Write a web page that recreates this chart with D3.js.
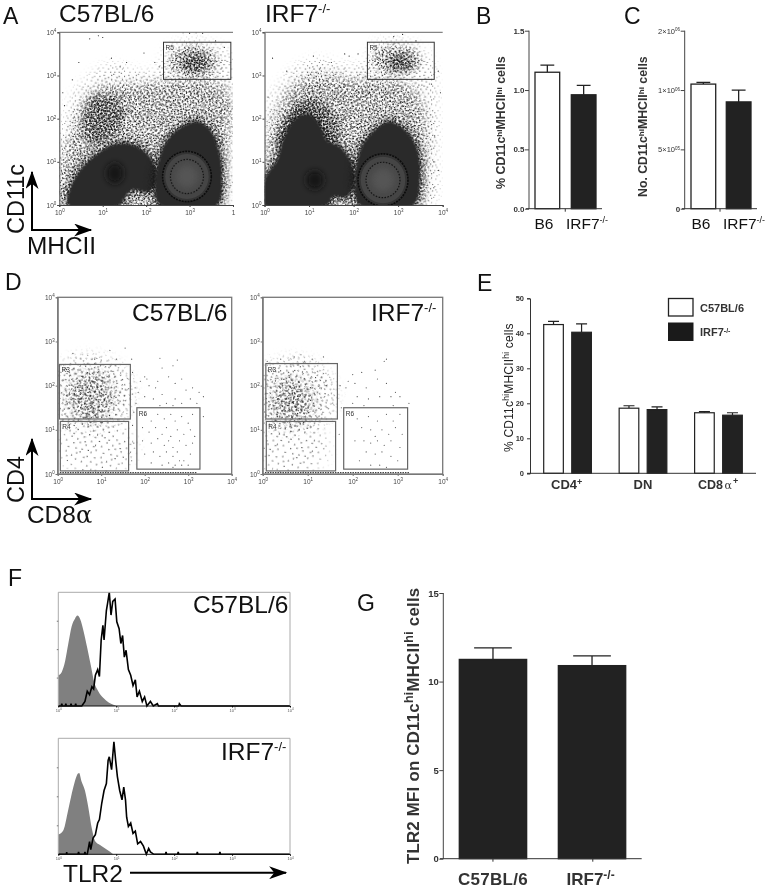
<!DOCTYPE html>
<html>
<head>
<meta charset="utf-8">
<script src="https://cdn.jsdelivr.net/npm/d3@7"></script>
<style>
  html, body { margin: 0; padding: 0; background: #fff; }
  svg { display: block; filter: blur(0.35px); }
  text { font-family: "Liberation Sans", Arial, sans-serif; }
</style>
</head>
<body>
<script>
// ---- values ----
// flow plots are in decades (0 = 10^0 ... 4 = 10^4)
var decades = [0, 1, 2, 3, 4];
var gateLabelA = "R5";

var aLeftCloud = [[0.02,0],[0.02,1.43],[0.13,1.89],[0.36,2.59],[0.71,2.97],[1.17,3.24],[1.71,3.09],[2.25,3.09],[2.48,3.59],[2.94,3.78],[3.4,3.75],[3.94,3.47],[4,2.9],[4,1.66],[3.86,0]];
var aLeftMid = [[0.05,0],[0.09,1.04],[0.36,1.81],[0.59,2.43],[1.09,2.74],[1.71,2.78],[2.25,2.82],[2.94,2.9],[3.55,2.86],[3.94,2.51],[3.9,1.51],[3.75,0.73],[3.67,0]];
var aLeftPatch = [[0.55,2.05],[0.78,2.51],[1.25,2.51],[1.48,2.2],[1.32,1.66],[0.86,1.43],[0.59,1.58]];
var aLeftSolid = [
  [[0.21,0],[0.28,0.46],[0.55,0.89],[0.9,1.2],[1.2,1.38],[1.6,1.42],[1.95,1.25],[2.17,0.97],[2.25,0.58],[2.05,0.31],[1.67,0.35],[1.48,0.12],[1.4,0]],
  [[2.2,0.42],[2.4,1.35],[2.71,1.74],[3.17,1.93],[3.48,1.74],[3.67,1.27],[3.75,0.66],[3.63,0],[2.32,0]]
];
var aLeftGateBlob = [3.09, 3.32, 0.56, 0.36];
var aLeftGateCore = [3.12, 3.3, 0.32, 0.22];
var aLeftNucleus = [1.28, 0.73, 0.2, 0.24];
var aLeftRing = [2.94, 0.66, 0.5, 0.52];
var aLeftGate = [2.4, 3.95, 2.91, 3.77];
var aLeftStray = [[0.7,3.85],[1.0,3.88],[0.9,3.92],[1.95,3.52],[1.4,3.2],[0.45,3.3],[3.0,3.98],[3.15,3.99],[2.85,3.99],[3.3,3.98],[1.2,3.4],[1.55,3.3],[0.3,2.9],[0.12,2.3],[0.08,2.6],[2.2,3.3],[2.3,3.2],[3.6,3.8],[3.8,3.65]];

var aRightCloud = [[0,0],[0.01,1.66],[0.13,2.43],[0.43,2.9],[0.8,3.24],[1.25,3.36],[1.84,3.2],[2.29,3.28],[2.44,3.67],[2.96,3.82],[3.49,3.63],[3.78,3.2],[3.86,2.43],[3.86,1.27],[3.71,0]];
var aRightMid = [[0.01,0.58],[0.13,1.66],[0.35,2.28],[0.65,2.74],[1.17,3.01],[1.92,2.9],[2.66,2.9],[3.26,2.74],[3.56,2.2],[3.63,1.27],[3.56,0.58],[3.49,0],[0.01,0]];
var aRightPatch = [[0.3,1.4],[0.55,2.15],[1.0,2.5],[1.5,2.2],[1.7,1.6],[1.0,1.3]];
var aRightSolid = [
  [[0,0.58],[0.28,1.04],[0.45,1.6],[0.7,2.0],[1.0,2.1],[1.25,1.85],[1.4,1.5],[1.69,1.35],[1.92,1.04],[2.03,0.58],[1.84,0.19],[1.54,0.19],[1.4,0],[0,0]],
  [[2.03,0.58],[2.18,1.35],[2.44,1.7],[2.78,1.93],[3.11,1.78],[3.41,1.35],[3.49,0.66],[3.34,0],[2.14,0]]
];
var aRightGateBlob = [2.96, 3.36, 0.55, 0.33];
var aRightGateCore = [3.05, 3.3, 0.3, 0.2];
var aRightNucleus = [1.13, 0.58, 0.2, 0.22];
var aRightRing = [2.66, 0.58, 0.5, 0.54];
var aRightGate = [2.31, 3.81, 2.91, 3.77];
var aRightStray = [[0.18,3.4],[0.5,3.1],[1.8,3.5],[1.9,3.45],[2.1,3.5],[3.95,2.6],[3.8,1.0],[3.9,0.8],[3.75,2.8],[3.9,3.1],[0.08,2.5],[3.1,3.95],[2.9,3.9],[3.4,3.8],[1.5,3.3],[1.1,3.45],[3.8,0.4],[3.82,1.6]];

var dLeftR3Blob = [0.74, 1.83, 1.0, 0.85];
var dLeftR3Core = [0.75, 1.75, 0.5, 0.55];
var dLeftR4Blob = [0.9, 0.6, 0.9, 0.65];
var dLeftPoints = [[0.35,2.73],[0.9,2.62],[1.2,2.8],[1.55,2.85],[0.85,2.6],[1.0,2.58],[1.7,2.6],[1.35,2.6],[2.35,2.62],[2.75,2.58],[2.65,2.45],[2.4,2.4],[2.0,2.2],[2.05,2.15],[1.9,2.1],[2.1,2.0],[2.25,1.95],[2.3,2.1],[2.55,2.2],[2.7,2.05],[2.85,2.15],[2.95,1.9],[3.1,1.95],[3.25,1.85],[3.35,1.75],[1.85,1.85],[2.0,1.75],[2.2,1.7],[2.4,1.8],[2.5,1.6],[2.7,1.7],[2.85,1.6],[3.05,1.7],[3.2,1.6],[1.8,1.6],[2.35,1.55],[2.65,1.55],[3.35,1.3],
  [2.0,1.35],[2.15,1.2],[2.3,1.35],[2.45,1.25],[2.6,1.35],[2.7,1.2],[2.85,1.3],[3.0,1.15],[3.1,1.35],[1.95,1.05],[2.1,0.95],[2.25,1.05],[2.4,0.9],[2.5,1.05],[2.6,0.85],[2.75,1.0],[2.9,0.9],[3.05,1.0],[3.15,0.85],[1.95,0.75],[2.15,0.7],[2.3,0.8],[2.45,0.65],[2.55,0.75],[2.65,0.6],[2.8,0.75],[2.95,0.65],[3.1,0.7],[2.0,0.45],[2.2,0.5],[2.35,0.4],[2.5,0.5],[2.65,0.4],[2.75,0.5],[2.9,0.3],[3.05,0.45],[2.55,0.25],[2.7,0.2],[2.85,0.2],[2.4,0.2],[2.15,0.25],[3.0,0.2],[2.65,0.15],[2.8,0.3],
  [1.72,1.1],[1.75,0.7],[1.7,0.3],[1.75,1.4],[1.72,2.3],[1.78,1.95]];
var dLeftGates = [["R3",0.04,1.67,1.245,2.48],["R4",0.06,1.63,0.07,1.19],["R6",1.82,3.27,0.11,1.5]];

var dRightR3Blob = [0.68, 1.78, 0.95, 0.85];
var dRightR3Core = [0.65, 1.65, 0.45, 0.5];
var dRightR4Blob = [0.65, 0.6, 0.8, 0.65];
var dRightPoints = [[0.4,2.6],[0.7,2.65],[0.85,2.7],[1.1,2.6],[1.35,2.65],[0.1,2.55],[2.7,2.55],[2.75,2.6],[2.5,2.35],[2.2,2.3],[2.0,2.25],[1.9,2.1],[1.85,1.95],[2.05,2.05],[2.3,1.95],[2.55,2.15],[2.75,2.05],[2.95,1.85],[2.85,1.75],[3.05,1.75],[3.25,1.6],[2.1,1.75],[2.35,1.7],[2.6,1.75],[2.25,1.55],[2.0,1.6],[2.9,1.55],
  [2.1,1.25],[2.35,1.3],[2.55,1.2],[2.75,1.35],[2.9,1.2],[3.05,1.35],[2.2,1.05],[2.4,1.0],[2.5,0.85],[2.65,1.0],[2.8,0.9],[2.95,1.05],[3.1,0.9],[2.05,0.75],[2.25,0.75],[2.4,0.7],[2.55,0.75],[2.7,0.65],[2.85,0.75],[3.05,0.6],[2.3,0.5],[2.5,0.45],[2.65,0.5],[2.85,0.4],[3.0,0.3],[2.6,0.2],[2.75,0.15],[2.4,0.2],[2.15,0.3],
  [1.7,0.9],[1.75,1.5],[1.72,2.0]];
var dRightGates = [["R3",0.07,1.66,1.245,2.5],["R4",0.08,1.62,0.07,1.19],["R6",1.8,3.22,0.11,1.5]];
var pileLeft = [0.05, 3.2];
var pileRight = [0.05, 3.25];

// bar panels
var bCats = ["B6", "IRF7"];
var bValues = [1.15, 0.96];
var bTops = [1.21, 1.04];
var bTicks = [0, 0.5, 1.0, 1.5];
var cValues = [1050000, 900000];
var cTops = [1065000, 1000000];
var cTicks = [0, 500000, 1000000, 1500000];
var cTickLabels = [["5", "05"], ["1", "06"], ["2", "06"]];
var eGroups = ["CD4", "DN", "CD8"];
var eWild = [42.5, 18.6, 17.3];
var eWildTops = [43.4, 19.3, 17.6];
var eKnock = [40.3, 18.2, 16.6];
var eKnockTops = [42.7, 19.0, 17.3];
var eTicks = [0, 10, 20, 30, 40, 50];
var gValues = [11.25, 10.9];
var gTops = [11.9, 11.45];
var gTicks = [0, 5, 10, 15];

// histograms: [decade, % of max]
var fTopGray = [[0,27],[0.06,30],[0.12,40],[0.17,54],[0.23,70],[0.29,77],[0.33,79.5],[0.38,76],[0.43,67],[0.5,51],[0.56,36],[0.62,21],[0.69,13],[0.78,7],[0.87,3],[0.95,1],[1.0,0]];
var fTopLine = [[0,0],[0.05,0],[0.06,2],[0.07,0],[0.12,0],[0.13,2],[0.14,0],[0.21,0],[0.22,2],[0.23,0],[0.29,0],[0.3,2],[0.31,0],[0.405,0],[0.46,4],[0.5,13],[0.54,10],[0.58,17],[0.61,15],[0.64,27],[0.68,32],[0.71,26],[0.74,58],[0.77,71],[0.79,58],[0.83,84],[0.85,90],[0.88,100],[0.91,80],[0.94,92],[0.98,94],[1.01,74],[1.05,68],[1.08,55],[1.11,62],[1.14,43],[1.17,49],[1.21,32],[1.25,27],[1.29,18],[1.33,23],[1.36,8],[1.4,13],[1.45,4],[1.49,8],[1.53,0],[1.59,4],[1.64,0],[1.71,2],[1.73,0],[2.08,0],[2.09,2],[2.12,0],[4,0]];
var fBotGray = [[0,17],[0.09,21],[0.17,38],[0.26,58],[0.32,68],[0.36,70],[0.4,63],[0.46,55],[0.52,40],[0.58,22],[0.64,11],[0.72,8],[0.81,5],[0.9,2],[0.95,0]];
var fBotLine = [[0,0],[0.14,0],[0.145,2],[0.15,0],[0.34,0],[0.35,2],[0.36,0],[0.45,0],[0.46,2],[0.47,0],[0.5,0],[0.54,11],[0.56,4],[0.6,14],[0.64,17],[0.68,27],[0.71,30],[0.75,44],[0.79,55],[0.83,61],[0.86,81],[0.88,84],[0.92,73],[0.96,97],[0.99,81],[1.02,67],[1.06,55],[1.1,47],[1.13,58],[1.16,47],[1.18,32],[1.21,24],[1.25,27],[1.29,18],[1.33,20],[1.37,9],[1.42,11],[1.47,7],[1.52,0],[1.56,5],[1.59,2],[1.65,0],[1.85,0],[1.86,2],[1.87,0],[2.06,0],[2.07,2],[2.08,0],[2.39,0],[2.4,2],[2.41,0],[2.78,0],[2.79,2],[2.8,0],[4,0]];

// hand placed dots of the repeating stipple tile
var stippleTile = [[1,2],[5,1],[9,3],[14,0],[19,2],[22,5],[3,6],[7,7],[12,5],[16,6],[20,8],[0,10],[5,11],[10,9],[13,11],[18,11],[22,12],[2,14],[7,14],[11,15],[15,13],[20,15],[4,17],[9,18],[13,17],[17,18],[22,18],[1,20],[6,21],[11,21],[15,21],[19,21],[3,10],[8,12],[17,3],[21,22],[12,1],[6,4],[16,16],[0,17]];

// ---- page ----
var width = 771, height = 889;
var svg = d3.select("body").append("svg").attr("width", width).attr("height", height);
var defs = svg.append("defs");

function makeStipple(id, angle, scale, color, dot){
    var p = defs.append("pattern").attr("id", id)
        .attr("patternUnits", "userSpaceOnUse")
        .attr("width", 23).attr("height", 23)
        .attr("patternTransform", "rotate(" + angle + ") scale(" + scale + ")");
    p.selectAll("rect").data(stippleTile).enter().append("rect")
        .attr("x", d => d[0]).attr("y", d => d[1])
        .attr("width", dot / scale).attr("height", dot / scale)
        .attr("fill", color);
}
var inkLayers = [[0, 1.07], [33, 0.97], [71, 1.13], [17, 0.83], [52, 0.91], [101, 1.01], [139, 0.87], [163, 0.79]];
inkLayers.forEach((s, i) => makeStipple("ink" + i, s[0], s[1], "#111", 0.95));
var dustLayers = [[11, 1.55], [47, 1.37], [79, 1.23], [121, 1.13], [149, 1.01]];
dustLayers.forEach((s, i) => makeStipple("dust" + i, s[0], s[1], "#1d1d1d", 1.05));

[["soft2", 1.3], ["soft4", 3], ["soft8", 6]].forEach(function(s){
    defs.append("filter").attr("id", s[0])
        .attr("filterUnits", "userSpaceOnUse")
        .attr("x", 0).attr("y", 0).attr("width", width).attr("height", height)
        .append("feGaussianBlur").attr("stdDeviation", s[1]);
});

var arrowId = defs.append("marker").attr("id", "head")
    .attr("viewBox", "0 0 14 10").attr("refX", 13).attr("refY", 5)
    .attr("markerUnits", "userSpaceOnUse").attr("markerWidth", 20).attr("markerHeight", 13)
    .attr("orient", "auto");
arrowId.append("path").attr("d", "M0,0 L14,5 L0,10 L4,5 Z").attr("fill", "#000");

// text with superscript runs: parts = [[string, raised?], ...]
function rich(sel, parts, supSize, rise){
    parts.forEach(function(p, i){
        var t = sel.append("tspan").text(p[0]);
        if(p[1]){
            t.attr("font-size", supSize).attr("dy", -rise);
        } else if(i > 0 && parts[i - 1][1]){
            t.attr("dy", rise);
        }
    });
    return sel;
}
function label(x, y, size, parts, opts){
    opts = opts || {};
    var t = svg.append("text").attr("x", x).attr("y", y)
        .attr("font-size", size)
        .attr("font-weight", opts.bold ? "bold" : "normal")
        .attr("fill", opts.color || "#111")
        .attr("text-anchor", opts.anchor || "start");
    if(opts.rotate) t.attr("transform", "rotate(-90 " + x + " " + y + ")");
    if(opts.spacing) t.attr("letter-spacing", opts.spacing);
    return rich(t, parts, opts.sup || size * 0.62, opts.rise || size * 0.38);
}
function arrow(x1, y1, x2, y2, w){
    svg.append("line").attr("x1", x1).attr("y1", y1).attr("x2", x2).attr("y2", y2)
        .attr("stroke", "#000").attr("stroke-width", w || 2)
        .attr("marker-end", "url(#head)");
}

var clipCount = 0, maskCount = 0;
function flowFrame(box, tickLabels){
    var x = d3.scaleLinear().domain([0, 4]).range([box.x0, box.x1]);
    var y = d3.scaleLinear().domain([0, 4]).range([box.y0, box.y1]);
    var id = "clip" + (clipCount++);
    defs.append("clipPath").attr("id", id).append("rect")
        .attr("x", box.x0).attr("y", box.y1)
        .attr("width", box.x1 - box.x0).attr("height", box.y0 - box.y1);
    var g = svg.append("g").attr("clip-path", "url(#" + id + ")");
    return {x: x, y: y, g: g, box: box, labels: tickLabels};
}
function flowAxes(f, color, width){
    var gx = svg.append("g").attr("transform", "translate(0," + f.box.y0 + ")")
        .call(d3.axisBottom(f.x).tickValues(decades).tickSize(2).tickFormat(""));
    var gy = svg.append("g").attr("transform", "translate(" + f.box.x0 + ",0)")
        .call(d3.axisLeft(f.y).tickValues(decades).tickSize(2).tickFormat(""));
    [gx, gy].forEach(g => {
        g.selectAll("path, line").attr("stroke", color).attr("stroke-width", width);
    });
    gx.selectAll(".tick text").each(function(d, i){
        var s = f.labels[i];
        var t = d3.select(this).attr("y", 8).attr("font-size", 6.5).attr("fill", "#444").attr("dy", "0.3em");
        if(s === "cut"){ t.text("1"); return; }
        rich(t, [["10", false], [s, true]], 4.5, 2.5);
    });
    gy.selectAll(".tick text").each(function(d, i){
        var t = d3.select(this).attr("x", -3).attr("font-size", 6.5).attr("fill", "#444");
        rich(t, [["10", false], [String(i), true]], 4.5, 2.5);
    });
}
function smooth(f){
    return d3.line().x(d => f.x(d[0])).y(d => f.y(d[1])).curve(d3.curveCatmullRomClosed.alpha(0.5));
}
function ellipsePath(f, b){
    var rx = f.x(b[2]) - f.x(0), ry = f.y(0) - f.y(b[3]);
    return "M" + f.x(b[0] - b[2]) + "," + f.y(b[1]) +
        "A" + rx + "," + ry + " 0 1,0 " + f.x(b[0] + b[2]) + "," + f.y(b[1]) +
        "A" + rx + "," + ry + " 0 1,0 " + f.x(b[0] - b[2]) + "," + f.y(b[1]) + "Z";
}
// stipple layers seen through a blurred copy of the region, so the edge thins out
function layered(f, d, n, prefix, soft){
    var id = "mask" + (maskCount++);
    var m = defs.append("mask").attr("id", id).attr("maskUnits", "userSpaceOnUse")
        .attr("x", 0).attr("y", 0).attr("width", width).attr("height", height);
    m.append("path").attr("d", d).attr("fill", "#fff").attr("filter", "url(#" + soft + ")");
    var g = f.g.append("g").attr("mask", "url(#" + id + ")");
    for(var i = 0; i < n; i++){
        g.append("rect").attr("x", f.box.x0).attr("y", f.box.y1)
            .attr("width", f.box.x1 - f.box.x0).attr("height", f.box.y0 - f.box.y1)
            .attr("fill", "url(#" + prefix + i + ")");
    }
}
function blob(f, b, fill, stroke, sw){
    return f.g.append("ellipse")
        .attr("cx", f.x(b[0])).attr("cy", f.y(b[1]))
        .attr("rx", Math.abs(f.x(b[2]) - f.x(0))).attr("ry", Math.abs(f.y(b[3]) - f.y(0)))
        .attr("fill", fill).attr("stroke", stroke || "none").attr("stroke-width", sw || 0);
}
function gateBox(f, g, color, w){
    svg.append("rect")
        .attr("x", f.x(g[1])).attr("y", f.y(g[4]))
        .attr("width", f.x(g[2]) - f.x(g[1])).attr("height", f.y(g[3]) - f.y(g[4]))
        .attr("fill", "none").attr("stroke", color).attr("stroke-width", w);
    svg.append("text").attr("x", f.x(g[1]) + 2).attr("y", f.y(g[4]) + 8)
        .attr("font-size", 6.5).attr("fill", "#333").text(g[0]);
}

function cellPlot(box, cloud, mid, patch, solids, gateBlob, gateCore, nucleus, ring, gate, stray, tickLabels){
    var f = flowFrame(box, tickLabels);
    var line = smooth(f);
    layered(f, line(cloud), 1, "ink", "soft8");
    layered(f, line(mid), 4, "ink", "soft8");
    layered(f, line(patch), 7, "ink", "soft4");
    layered(f, ellipsePath(f, gateBlob), 4, "ink", "soft4");
    layered(f, ellipsePath(f, gateCore), 8, "ink", "soft4");
    solids.forEach(function(s){
        var d = line(s);
        var id = "mask" + (maskCount++);
        var m = defs.append("mask").attr("id", id).attr("maskUnits", "userSpaceOnUse")
            .attr("x", 0).attr("y", 0).attr("width", width).attr("height", height);
        m.append("path").attr("d", d).attr("fill", "#fff").attr("stroke", "#fff").attr("stroke-width", 9).attr("filter", "url(#soft4)");
        var g = f.g.append("g").attr("mask", "url(#" + id + ")");
        for(var i = 0; i < 8; i++){
            g.append("rect").attr("x", box.x0).attr("y", box.y1)
                .attr("width", box.x1 - box.x0).attr("height", box.y0 - box.y1)
                .attr("fill", "url(#ink" + i + ")");
        }
        f.g.append("path").attr("d", d).attr("fill", "#2b2b2b").attr("filter", "url(#soft2)");
    });
    blob(f, nucleus, "#161616").attr("filter", "url(#soft4)");
    blob(f, [ring[0], ring[1], ring[2] * 1.12, ring[3] * 1.12], "#343434", "#0c0c0c", 1.6).attr("stroke-dasharray", "2 1");
    blob(f, ring, "#454545");
    blob(f, [ring[0], ring[1], ring[2] * 0.76, ring[3] * 0.76], "#484848", "#141414", 1.2).attr("stroke-dasharray", "1.5 1.5");
    blob(f, [ring[0], ring[1], ring[2] * 0.5, ring[3] * 0.5], "#545454").attr("filter", "url(#soft4)");
    f.g.selectAll("circle.stray").data(stray).enter().append("circle").attr("class", "stray")
        .attr("cx", d => f.x(d[0])).attr("cy", d => f.y(d[1])).attr("r", 0.6).attr("fill", "#222");
    flowAxes(f, "#444", 1);
    svg.append("line").attr("x1", f.x(0)).attr("x2", f.x(4)).attr("y1", f.y(4)).attr("y2", f.y(4))
        .attr("stroke", "#666").attr("stroke-width", 1);
    gateBox(f, [gateLabelA, gate[0], gate[1], gate[2], gate[3]], "#333", 1);
    return f;
}

function subsetPlot(box, r3, r3core, r4, points, gates, pile){
    var f = flowFrame(box, ["0", "1", "2", "3", "4"]);
    layered(f, ellipsePath(f, r3), 2, "dust", "soft8");
    layered(f, ellipsePath(f, r3core), 5, "dust", "soft8");
    layered(f, ellipsePath(f, r4), 1, "dust", "soft8");
    f.g.selectAll("circle.ev").data(points).enter().append("circle").attr("class", "ev")
        .attr("cx", d => f.x(d[0])).attr("cy", d => f.y(d[1])).attr("r", 0.6).attr("fill", "#555");
    f.g.append("line").attr("x1", f.x(pile[0])).attr("x2", f.x(pile[1]))
        .attr("y1", f.y(0.03)).attr("y2", f.y(0.03))
        .attr("stroke", "#444").attr("stroke-width", 1.2).attr("stroke-dasharray", "1.5 1");
    svg.append("rect").attr("x", f.x(0)).attr("y", f.y(4))
        .attr("width", f.x(4) - f.x(0)).attr("height", f.y(0) - f.y(4))
        .attr("fill", "none").attr("stroke", "#777").attr("stroke-width", 1.3);
    flowAxes(f, "#777", 1);
    gates.forEach(g => gateBox(f, g, "#666", 1.2));
}

function histPlot(box, gray, line){
    var x = d3.scaleLinear().domain([0, 4]).range([box.x0, box.x1]);
    var y = d3.scaleLinear().domain([0, 100]).range([box.y0, box.y1]);
    svg.append("path").datum(gray)
        .attr("d", d3.area().x(d => x(d[0])).y0(y(0)).y1(d => y(d[1])).curve(d3.curveMonotoneX))
        .attr("fill", "#808080");
    svg.append("path").datum(line)
        .attr("d", d3.line().x(d => x(d[0])).y(d => y(d[1])))
        .attr("fill", "none").attr("stroke", "#000").attr("stroke-width", 1.6);
    svg.append("path")
        .attr("d", "M" + x(0) + "," + y(0) + "V" + y(100) + "H" + x(4) + "V" + y(0))
        .attr("fill", "none").attr("stroke", "#aaa").attr("stroke-width", 1);
    svg.append("line").attr("x1", x(0)).attr("x2", x(4)).attr("y1", y(0)).attr("y2", y(0))
        .attr("stroke", "#111").attr("stroke-width", 1);
    var gx = svg.append("g").attr("transform", "translate(0," + y(0) + ")")
        .call(d3.axisBottom(x).tickValues(decades).tickSize(1.5).tickFormat(""));
    gx.select("path").remove();
    gx.selectAll(".tick text").each(function(d, i){
        var t = d3.select(this).attr("y", 3).attr("font-size", 4).attr("fill", "#555");
        rich(t, [["10", false], [String(i), true]], 3, 1.5);
    });
    var gy = svg.append("g").attr("transform", "translate(" + x(0) + ",0)")
        .call(d3.axisLeft(y).tickValues([25, 50, 75]).tickSize(1.5).tickFormat(""));
    gy.select("path").remove();
    gy.selectAll("line").attr("stroke", "#777");
}

function yTitleParts(prefix){
    return [[prefix + "CD11c", false], ["hi", true], ["MHCII", false], ["hi", true], [" cells", false]];
}

function barPlot(o){
    var y = d3.scaleLinear().domain(o.domain).range([o.y0, o.y1]);
    var band = d3.scaleBand().domain(d3.range(o.values.length)).range([o.barLeft, o.barRight]).paddingInner(o.gap);
    o.values.forEach(function(v, i){
        var cx = band(i) + band.bandwidth() / 2;
        var cap = band.bandwidth() * 0.28;
        svg.append("path")
            .attr("d", "M" + cx + "," + y(v) + "V" + y(o.tops[i]) + "M" + (cx - cap) + "," + y(o.tops[i]) + "H" + (cx + cap))
            .attr("fill", "none").attr("stroke", "#222").attr("stroke-width", o.lw);
        svg.append("rect").attr("x", band(i)).attr("y", y(v))
            .attr("width", band.bandwidth()).attr("height", y(0) - y(v))
            .attr("fill", o.fills[i]).attr("stroke", "#222").attr("stroke-width", o.lw);
    });
    var ga = svg.append("g").attr("transform", "translate(" + o.axisX + ",0)")
        .call(d3.axisLeft(y).tickValues(o.ticks).tickSize(4).tickFormat(o.tickFormat));
    ga.selectAll("path, line").attr("stroke", "#444").attr("stroke-width", 1);
    ga.selectAll("text").attr("font-size", o.tickSize).attr("font-weight", "bold").attr("fill", "#333")
        .attr("font-family", "Liberation Sans").attr("x", -4.5);
    ga.select("path").attr("d", "M0," + o.y1 + "V" + o.y0);
    var xs = d3.scaleLinear().domain([0, 1]).range([o.xStart, o.xEnd]);
    var gb = svg.append("g").attr("transform", "translate(0," + o.y0 + ")")
        .call(d3.axisBottom(xs).tickValues(o.xTicks).tickSize(3).tickFormat(""));
    gb.select("path").attr("d", "M" + o.xStart + ",0H" + o.xEnd);
    gb.selectAll("path, line").attr("stroke", "#333").attr("stroke-width", 1);
    return y;
}

// ---- panel A ----
label(3, 24, 23, [["A", false]]);
label(59, 22, 24.5, [["C57BL/6", false]]);
label(265, 22, 24.5, [["IRF7", false], ["-/-", true]], {sup: 13, rise: 9});
cellPlot({x0: 59.3, x1: 233, y0: 205, y1: 32.3}, aLeftCloud, aLeftMid, aLeftPatch, aLeftSolid, aLeftGateBlob, aLeftGateCore, aLeftNucleus, aLeftRing, aLeftGate, aLeftStray, ["0", "1", "2", "3", "cut"]);
cellPlot({x0: 264.5, x1: 442.7, y0: 205, y1: 32.3}, aRightCloud, aRightMid, aRightPatch, aRightSolid, aRightGateBlob, aRightGateCore, aRightNucleus, aRightRing, aRightGate, aRightStray, ["0", "1", "2", "3", "4"]);
arrow(32, 231, 32, 172, 2);
arrow(31, 230, 91, 230, 2);
label(24, 234, 23.5, [["CD11c", false]], {rotate: true});
label(27, 254, 24.4, [["MHCII", false]]);

// ---- panel B ----
label(476, 24, 23, [["B", false]]);
barPlot({domain: [0, 1.5], y0: 208.7, y1: 30.7, values: bValues, tops: bTops, ticks: bTicks,
    tickFormat: d3.format(".1f"), tickSize: 8, barLeft: 535, barRight: 596, gap: 0.32, fills: ["#fff", "#222"],
    lw: 1.3, axisX: 529, xStart: 526, xEnd: 602, xTicks: [0.51]});
label(544, 229, 15.5, [[bCats[0], false]], {anchor: "middle"});
label(566, 229, 15.5, [[bCats[1], false], ["-/-", true]], {sup: 9, rise: 6});
label(505, 189, 12.4, yTitleParts("% "), {rotate: true, bold: true, color: "#333", sup: 8, rise: 3.5});

// ---- panel C ----
label(624, 24, 23, [["C", false]]);
var cY = barPlot({domain: [0, 1500000], y0: 208.7, y1: 30.7, values: cValues, tops: cTops, ticks: cTicks,
    tickFormat: d => d === 0 ? "0" : "", tickSize: 8, barLeft: 691, barRight: 751, gap: 0.3, fills: ["#fff", "#222"],
    lw: 1.3, axisX: 684.7, xStart: 682, xEnd: 757, xTicks: [0.5]});
cTickLabels.forEach(function(t, i){
    label(680, cY(cTicks[i + 1]) + 3, 7.5, [[t[0] + "\u00d710", false], [t[1], true]], {anchor: "end", color: "#333", sup: 4.5, rise: 2.5});
});
label(647, 197, 12.3, yTitleParts("No. "), {rotate: true, bold: true, color: "#333", sup: 8, rise: 3.5});
label(701, 229, 15.5, [[bCats[0], false]], {anchor: "middle"});
label(723, 229, 15.5, [[bCats[1], false], ["-/-", true]], {sup: 9, rise: 6});

// ---- panel D ----
label(5, 290, 23, [["D", false]]);
subsetPlot({x0: 57.7, x1: 231.7, y0: 474, y1: 297.3}, dLeftR3Blob, dLeftR3Core, dLeftR4Blob, dLeftPoints, dLeftGates, pileLeft);
subsetPlot({x0: 262.7, x1: 442.7, y0: 474, y1: 297.3}, dRightR3Blob, dRightR3Core, dRightR4Blob, dRightPoints, dRightGates, pileRight);
label(132, 320.5, 24.5, [["C57BL/6", false]]);
label(371, 320.5, 24.5, [["IRF7", false], ["-/-", true]], {sup: 13, rise: 9});
arrow(32, 499, 32, 439, 2);
arrow(31, 499, 91, 499, 2);
label(24, 503, 23.5, [["CD4", false]], {rotate: true});
label(27, 522.5, 24.4, [["CD8", false]]);
svg.append("text").attr("x", 76).attr("y", 522.5).attr("font-size", 24).attr("style", "font-family:'DejaVu Serif'").attr("fill", "#111").text("\u03b1");

// ---- panel E ----
label(477, 291, 23, [["E", false]]);
var eY = d3.scaleLinear().domain([0, 50]).range([473.3, 298.3]);
var eOuter = d3.scaleBand().domain(eGroups).range([543.7, 742.3]).paddingInner(0.368);
var eInner = d3.scaleBand().domain([0, 1]).range([0, eOuter.bandwidth()]).paddingInner(0.3);
eGroups.forEach(function(cat, i){
    [[eWild, eWildTops, "#fff"], [eKnock, eKnockTops, "#222"]].forEach(function(s, j){
        var x0 = eOuter(cat) + eInner(j), w = eInner.bandwidth(), cx = x0 + w / 2;
        svg.append("path")
            .attr("d", "M" + cx + "," + eY(s[0][i]) + "V" + eY(s[1][i]) + "M" + (cx - 5.5) + "," + eY(s[1][i]) + "H" + (cx + 5.5))
            .attr("fill", "none").attr("stroke", "#222").attr("stroke-width", 1.2);
        svg.append("rect").attr("x", x0).attr("y", eY(s[0][i]))
            .attr("width", w).attr("height", eY(0) - eY(s[0][i]))
            .attr("fill", s[2]).attr("stroke", "#222").attr("stroke-width", 1.2);
    });
});
var eAxis = svg.append("g").attr("transform", "translate(530,0)")
    .call(d3.axisLeft(eY).tickValues(eTicks).tickSize(3));
eAxis.selectAll("path, line").attr("stroke", "#333");
eAxis.selectAll("text").attr("font-size", 7.5).attr("font-weight", "bold").attr("fill", "#333").attr("font-family", "Liberation Sans");
svg.append("line").attr("x1", 527).attr("x2", 756).attr("y1", eY(0)).attr("y2", eY(0)).attr("stroke", "#333");
label(551, 488.5, 13, [["CD4", false], ["+", true]], {bold: true, color: "#333", sup: 9, rise: 4});
label(643, 488.5, 13, [["DN", false]], {anchor: "middle", bold: true, color: "#333"});
label(698, 488.5, 12.5, [["CD8", false]], {bold: true, color: "#333"});
svg.append("text").attr("x", 724.5).attr("y", 489).attr("font-size", 11).attr("style", "font-family:'DejaVu Serif'").attr("fill", "#333").text("\u03b1");
label(733, 484, 9, [["+", false]], {bold: true, color: "#333"});
label(513, 452, 12, yTitleParts("% "), {rotate: true, color: "#222", sup: 8.5, rise: 4.5, spacing: 0.2});
svg.append("rect").attr("x", 668.5).attr("y", 298.5).attr("width", 24.5).attr("height", 17.5).attr("fill", "#fff").attr("stroke", "#222").attr("stroke-width", 1.3);
svg.append("rect").attr("x", 668).attr("y", 322.5).attr("width", 25.5).attr("height", 18.5).attr("fill", "#1a1a1a");
label(700, 311.5, 11, [["C57BL/6", false]], {bold: true, color: "#333"});
label(700, 336, 11, [["IRF7", false], ["-/-", true]], {bold: true, color: "#333", sup: 7, rise: 3.5});

// ---- panel F ----
label(8, 586, 23, [["F", false]]);
histPlot({x0: 58.3, x1: 290, y0: 706, y1: 592.3}, fTopGray, fTopLine);
histPlot({x0: 58.3, x1: 290, y0: 854.3, y1: 738.3}, fBotGray, fBotLine);
label(193, 612.5, 24.5, [["C57BL/6", false]]);
label(221, 760, 24.5, [["IRF7", false], ["-/-", true]], {sup: 13, rise: 9});
label(63, 881.5, 24.5, [["TLR2", false]]);
arrow(130, 872.7, 286, 872.7, 2);

// ---- panel G ----
label(357, 611, 23, [["G", false]]);
barPlot({domain: [0, 15], y0: 858.7, y1: 593, values: gValues, tops: gTops, ticks: gTicks,
    tickFormat: d3.format("d"), tickSize: 9.5, barLeft: 459.3, barRight: 625.7, gap: 0.32, fills: ["#222", "#222"],
    lw: 1.3, axisX: 443.3, xStart: 440, xEnd: 641.7, xTicks: [0.26, 0.755]});
label(493, 885, 17, [["C57BL/6", false]], {anchor: "middle", bold: true, color: "#333", spacing: 0.3});
label(566.5, 885, 17, [["IRF7", false], ["-/-", true]], {bold: true, color: "#333", sup: 12, rise: 6});
label(419, 864, 16.8, yTitleParts("TLR2 MFI on "), {rotate: true, bold: true, color: "#333", sup: 12.5, rise: 6.5, spacing: 0.25});
</script>
</body>
</html>
